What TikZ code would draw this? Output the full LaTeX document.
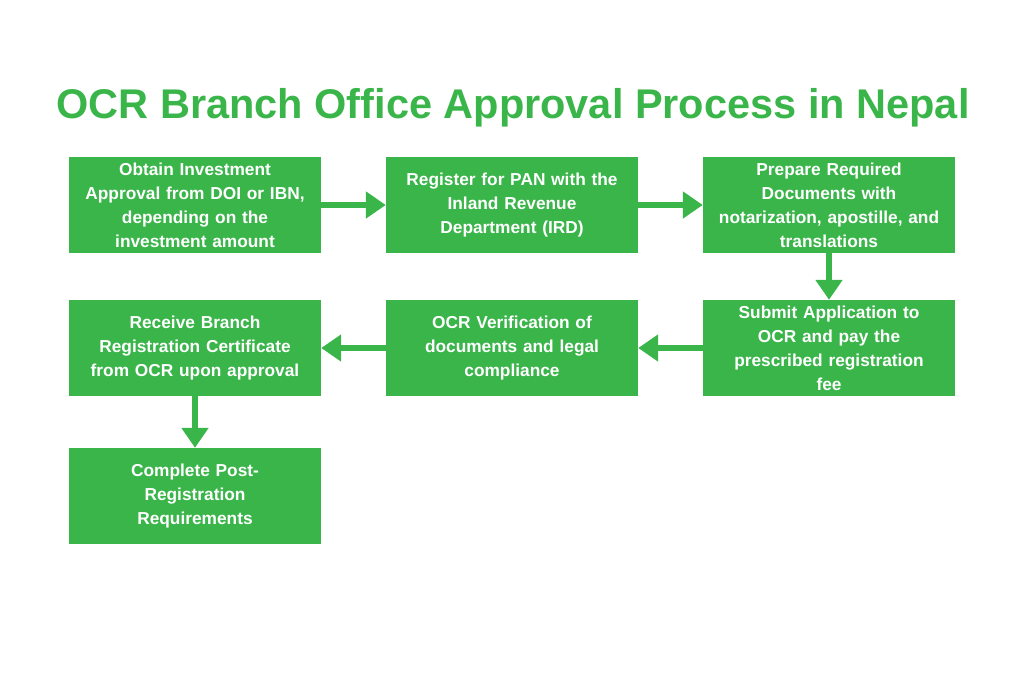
\documentclass[tikz,border=0pt]{standalone}
\usepackage{fontspec}
\setmainfont{Liberation Sans}
\usetikzlibrary{arrows.meta}
\definecolor{g}{HTML}{3AB54A}
\begin{document}
\begin{tikzpicture}[x=1pt,y=-1pt,
box/.style={fill=g,draw=none,minimum width=252pt,minimum height=96pt,text width=246pt,align=center,text=white,font=\fontsize{17.3}{24}\selectfont\bfseries,inner sep=0pt},
arr/.style={draw=g,line width=6pt,-{Triangle[length=20pt,width=26pt]}}]
\useasboundingbox (0,0) rectangle (1024,683);
\node[text=g,font=\fontsize{41.5}{46}\selectfont\bfseries] (t) at (513,108) {OCR Branch Office Approval Process in Nepal};
\node[box] (a) at (195,205) {Obtain Investment\\Approval from DOI or IBN,\\depending on the\\investment amount};
\node[box] (b) at (512,205) {Register for PAN with the\\Inland Revenue\\Department (IRD)};
\node[box] (c) at (829,205) {Prepare Required\\Documents with\\notarization, apostille, and\\translations};
\node[box] (d) at (829,348) {Submit Application to\\OCR and pay the\\prescribed registration\\fee};
\node[box] (e) at (512,348) {OCR Verification of\\documents and legal\\compliance};
\node[box] (f) at (195,348) {Receive Branch\\Registration Certificate\\from OCR upon approval};
\node[box] (h) at (195,496) {Complete Post-\\Registration\\Requirements};
\draw[arr] (a) -- (b);
\draw[arr] (b) -- (c);
\draw[arr] (c) -- (d);
\draw[arr] (d) -- (e);
\draw[arr] (e) -- (f);
\draw[arr] (f) -- (h);
\end{tikzpicture}
\end{document}
